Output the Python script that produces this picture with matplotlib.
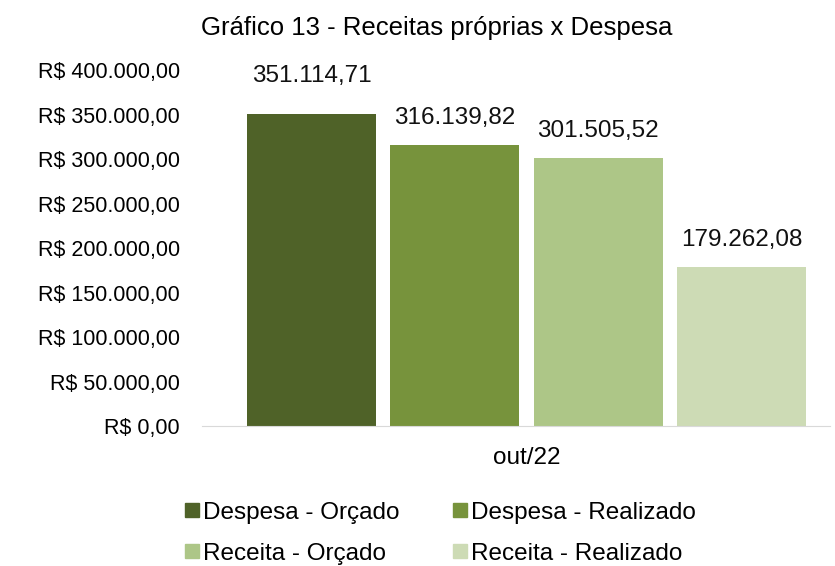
import matplotlib.pyplot as plt
from matplotlib.lines import Line2D

plt.rcParams['font.family'] = ['Liberation Sans', 'DejaVu Sans']

# data
series = ['Despesa - Orçado', 'Despesa - Realizado', 'Receita - Orçado', 'Receita - Realizado']
values = [351114.71, 316139.82, 301505.52, 179262.08]
labels = ['351.114,71', '316.139,82', '301.505,52', '179.262,08']
colors = ['#4F6228', '#77933C', '#ADC687', '#CDDBB5']
category = 'out/22'
yticks = [0, 50000, 100000, 150000, 200000, 250000, 300000, 350000, 400000]
ytick_labels = ['R$ 0,00', 'R$ 50.000,00', 'R$ 100.000,00', 'R$ 150.000,00', 'R$ 200.000,00',
                'R$ 250.000,00', 'R$ 300.000,00', 'R$ 350.000,00', 'R$ 400.000,00']

# label offsets above the bar (points)
label_dy = [27, 19, 19, 19]

fig = plt.figure(figsize=(8.35, 5.66), dpi=100)
ax = fig.add_axes([0.242, 0.247, 0.752, 0.629])

pos = range(len(values))
bars = ax.bar(pos, values, width=0.9, color=colors)
for b, lab, dy in zip(bars, labels, label_dy):
    ax.annotate(lab, (b.get_x() + b.get_width() / 2, b.get_height()),
                xytext=(0, dy), textcoords='offset points',
                ha='center', va='center', fontsize=17.5, color='#111111')

ax.set_xlim(-0.764, 3.617)
ax.set_ylim(0, 400000)
ax.set_yticks(yticks)
ax.set_yticklabels(ytick_labels, fontsize=15.5)
ax.set_xticks([1.5])
ax.set_xticklabels([category], fontsize=17.5)
ax.tick_params(axis='x', length=0, pad=15)
ax.tick_params(axis='y', length=0, pad=16)

for s in ['top', 'right', 'left']:
    ax.spines[s].set_visible(False)
ax.spines['bottom'].set_color('#D9D9D9')

fig.text(0.523, 0.951, 'Gráfico 13 - Receitas próprias x Despesa', fontsize=18.5,
         ha='center', va='center')

# legend filled row by row like the original
order = [0, 2, 1, 3]
handles = [Line2D([], [], marker='s', linestyle='', markersize=10, color=colors[i]) for i in order]
fig.legend(handles, [series[i] for i in order], ncol=2, loc='lower center',
           bbox_to_anchor=(0.526, -0.036), frameon=False, fontsize=17.5,
           handletextpad=0.05, columnspacing=2.1, labelspacing=0.78, handlelength=0.8)

fig.savefig('out.png', dpi=100)
